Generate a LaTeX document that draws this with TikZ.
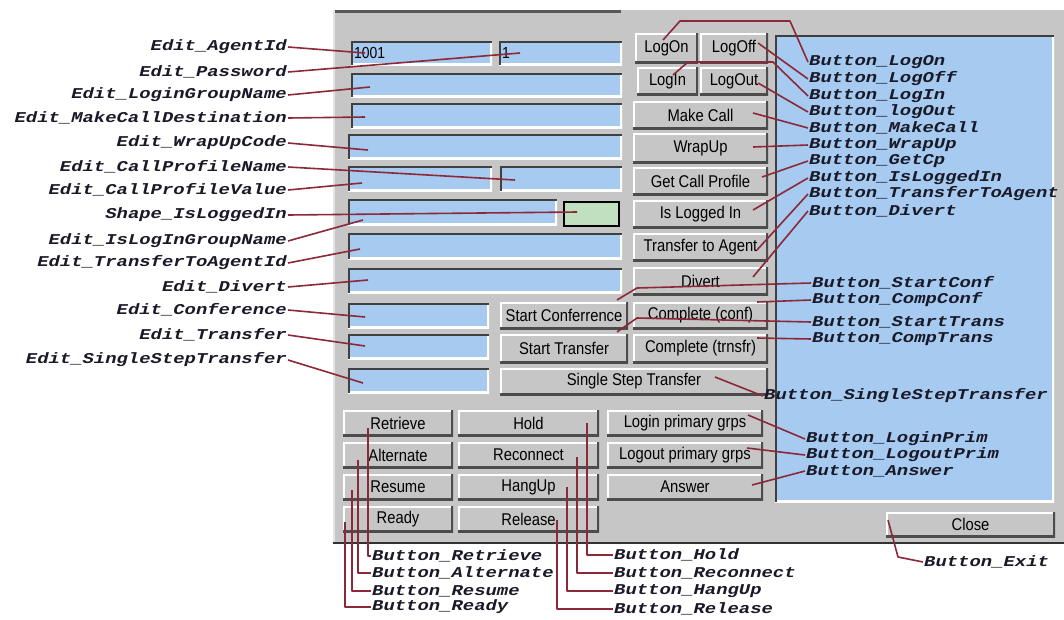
\documentclass[tikz,border=0pt]{standalone}
\usepackage{fontspec}
\newfontfamily\tagfont{Liberation Mono}[FakeStretch=1.26]
\newfontfamily\guifont{Liberation Sans}[FakeStretch=0.87]

\definecolor{wingray}{RGB}{198,198,198}
\definecolor{fieldblue}{RGB}{166,202,240}
\definecolor{ledgreen}{RGB}{192,224,192}
\definecolor{leadred}{RGB}{140,40,55}
\definecolor{tagink}{RGB}{25,25,40}

\tikzset{
  widget/.style={anchor=north west,inner sep=0pt,outer sep=0pt,
    font=\guifont\fontsize{17}{17}\selectfont},
  btn/.style={widget,fill=wingray,path picture={
    \draw[white,line width=4pt] (path picture bounding box.south west) |- (path picture bounding box.north east);
    \draw[black!70,line width=4pt] (path picture bounding box.south west) -| (path picture bounding box.north east);}},
  fld/.style={widget,fill=fieldblue,path picture={
    \draw[white,line width=4pt] (path picture bounding box.south west) -| (path picture bounding box.north east);
    \draw[black!75,line width=4pt] (path picture bounding box.south west) |- (path picture bounding box.north east);}},
  ledbox/.style={widget,fill=ledgreen,draw=black,line width=1.5pt},
  tag/.style={inner sep=1pt,text=tagink,font=\tagfont\bfseries\itshape\fontsize{15}{15}\selectfont},
  tagl/.style={tag,anchor=east},
  tagr/.style={tag,anchor=west},
  lead/.style={leadred,line width=1.6pt,line join=round},
  fldtxt/.style={anchor=west,inner sep=3pt,font=\guifont\fontsize{16}{16}\selectfont}
}

\begin{document}
\begin{tikzpicture}[x=1pt,y=-1pt]
\useasboundingbox (0,0) rectangle (1064,619);
% the window
\fill[wingray] (333,10) rectangle (1064,543);
\draw[black!65,line width=3pt] (333,11.5) -- (621,11.5);
\draw[white!80!gray,line width=2pt] (334,10) -- (334,543);
\draw[black!80,line width=2pt] (333,543) -- (1064,543);
\node[fld,minimum width=279,minimum height=467] (pnlOut) at (775,35) {};

% edit fields
\node[fld,minimum width=141,minimum height=24,label={[fldtxt]west:1001}] (fAgent) at (351,41) {};
\node[fld,minimum width=123,minimum height=24,label={[fldtxt]west:1}] (fPass) at (499,41) {};
\node[fld,minimum width=271,minimum height=24] (fLoginGrp) at (351,73) {};
\node[fld,minimum width=271,minimum height=25] (fMakeCall) at (351,103) {};
\node[fld,minimum width=274,minimum height=25] (fWrapUp) at (348,134) {};
\node[fld,minimum width=144,minimum height=25] (fCpL) at (348,166) {};
\node[fld,minimum width=122,minimum height=25] (fCpR) at (500,166) {};
\node[fld,minimum width=209,minimum height=26] (fIsLogGrp) at (348,199) {};
\node[ledbox,minimum width=55,minimum height=24] (shLogged) at (564,202) {};
\node[fld,minimum width=274,minimum height=26] (fXferAgent) at (348,233) {};
\node[fld,minimum width=274,minimum height=25] (fDivert) at (348,268) {};
\node[fld,minimum width=141,minimum height=25] (fConf) at (348,303) {};
\node[fld,minimum width=141,minimum height=25] (fXfer) at (348,334) {};
\node[fld,minimum width=141,minimum height=25] (fSST) at (348,368) {};

% buttons
\node[btn,minimum width=63,minimum height=30] (bLogOn) at (635,33) {LogOn};
\node[btn,minimum width=68,minimum height=30] (bLogOff) at (700,33) {LogOff};
\node[btn,minimum width=61,minimum height=28] (bLogIn) at (637,67) {LogIn};
\node[btn,minimum width=68,minimum height=28] (bLogOut) at (700,67) {LogOut};
\node[btn,minimum width=135,minimum height=28] (bMakeCall) at (633,101) {Make Call};
\node[btn,minimum width=135,minimum height=30] (bWrapUp) at (633,133) {WrapUp};
\node[btn,minimum width=135,minimum height=28] (bGetCp) at (633,167) {Get Call Profile};
\node[btn,minimum width=135,minimum height=28] (bIsLogged) at (633,200) {Is Logged In};
\node[btn,minimum width=135,minimum height=28] (bXferAgent) at (633,233) {Transfer to Agent};
\node[btn,minimum width=135,minimum height=28] (bDivert) at (633,267) {Divert};
\node[btn,minimum width=128,minimum height=27] (bStartConf) at (500,302) {Start Conferrence};
\node[btn,minimum width=135,minimum height=27] (bCompConf) at (633,302) {Complete (conf)};
\node[btn,minimum width=128,minimum height=29] (bStartXfer) at (500,334) {Start Transfer};
\node[btn,minimum width=135,minimum height=29] (bCompXfer) at (633,334) {Complete (trnsfr)};
\node[btn,minimum width=268,minimum height=27] (bSST) at (500,368) {Single Step Transfer};
\node[btn,minimum width=110,minimum height=26] (bRetrieve) at (343,410) {Retrieve};
\node[btn,minimum width=141,minimum height=26] (bHold) at (458,410) {Hold};
\node[btn,minimum width=156,minimum height=26] (bLoginPrim) at (607,410) {Login primary grps};
\node[btn,minimum width=110,minimum height=26] (bAlternate) at (343,442) {Alternate};
\node[btn,minimum width=141,minimum height=26] (bReconnect) at (458,442) {Reconnect};
\node[btn,minimum width=156,minimum height=26] (bLogoutPrim) at (607,442) {Logout primary grps};
\node[btn,minimum width=110,minimum height=26] (bResume) at (343,474) {Resume};
\node[btn,minimum width=141,minimum height=26] (bHangUp) at (458,474) {HangUp};
\node[btn,minimum width=156,minimum height=26] (bAnswer) at (607,474) {Answer};
\node[btn,minimum width=110,minimum height=26] (bReady) at (343,506) {Ready};
\node[btn,minimum width=141,minimum height=26] (bRelease) at (458,506) {Release};
\node[btn,minimum width=169,minimum height=25] (bClose) at (886,512) {Close};

% names on the left
\node[tagl] (lAgent) at (288,47) {Edit\_AgentId};
\node[tagl] (lPass) at (288,72) {Edit\_Password};
\node[tagl] (lLoginGrp) at (288,95) {Edit\_LoginGroupName};
\node[tagl] (lMakeCall) at (288,118) {Edit\_MakeCallDestination};
\node[tagl] (lWrapUp) at (288,143) {Edit\_WrapUpCode};
\node[tagl] (lCpName) at (288,167) {Edit\_CallProfileName};
\node[tagl] (lCpValue) at (288,190) {Edit\_CallProfileValue};
\node[tagl] (lShLogged) at (288,215) {Shape\_IsLoggedIn};
\node[tagl] (lIsLogGrp) at (288,241) {Edit\_IsLogInGroupName};
\node[tagl] (lXferAgent) at (288,263) {Edit\_TransferToAgentId};
\node[tagl] (lDivert) at (288,287) {Edit\_Divert};
\node[tagl] (lConf) at (288,310) {Edit\_Conference};
\node[tagl] (lXfer) at (288,335) {Edit\_Transfer};
\node[tagl] (lSSTe) at (288,360) {Edit\_SingleStepTransfer};

\draw[lead] (lAgent.east) -- ([shift={(14,12)}]fAgent.north west);
\draw[lead] (lPass.east) -- ([shift={(21,12)}]fPass.north west);
\draw[lead] (lLoginGrp.east) -- ([shift={(19,14)}]fLoginGrp.north west);
\draw[lead] (lMakeCall.east) -- ([shift={(14,14)}]fMakeCall.north west);
\draw[lead] (lWrapUp.east) -- ([shift={(20,16)}]fWrapUp.north west);
\draw[lead] (lCpName.east) -- ([shift={(15,14)}]fCpR.north west);
\draw[lead] (lCpValue.east) -- ([shift={(14,17)}]fCpL.north west);
\draw[lead] (lShLogged.east) -- ([shift={(13,10)}]shLogged.north west);
\draw[lead] (lIsLogGrp.east) -- ([shift={(15,21)}]fIsLogGrp.north west);
\draw[lead] (lXferAgent.east) -- ([shift={(12,16)}]fXferAgent.north west);
\draw[lead] (lDivert.east) -- ([shift={(20,12)}]fDivert.north west);
\draw[lead] (lConf.east) -- ([shift={(17,14)}]fConf.north west);
\draw[lead] (lXfer.east) -- ([shift={(17,12)}]fXfer.north west);
\draw[lead] (lSSTe.east) -- ([shift={(15,15)}]fSST.north west);

% names on the right
\node[tagr] (lLogOn) at (808,62) {Button\_LogOn};
\node[tagr] (lLogOff) at (808,79) {Button\_LogOff};
\node[tagr] (lLogIn) at (808,96) {Button\_LogIn};
\node[tagr] (lLogOut) at (808,112) {Button\_logOut};
\node[tagr] (lMakeCallB) at (808,128) {Button\_MakeCall};
\node[tagr] (lWrapUpB) at (808,145) {Button\_WrapUp};
\node[tagr] (lGetCp) at (808,161) {Button\_GetCp};
\node[tagr] (lIsLogged) at (808,178) {Button\_IsLoggedIn};
\node[tagr] (lXferAgentB) at (808,194) {Button\_TransferToAgent};
\node[tagr] (lDivertB) at (808,211) {Button\_Divert};
\node[tagr] (lStartConf) at (811,283) {Button\_StartConf};
\node[tagr] (lCompConf) at (811,300) {Button\_CompConf};
\node[tagr] (lStartTrans) at (811,322) {Button\_StartTrans};
\node[tagr] (lCompTrans) at (811,339) {Button\_CompTrans};
\node[tagr] (lSST) at (763,396) {Button\_SingleStepTransfer};
\node[tagr] (lLoginPrim) at (805,439) {Button\_LoginPrim};
\node[tagr] (lLogoutPrim) at (805,455) {Button\_LogoutPrim};
\node[tagr] (lAnswer) at (805,471) {Button\_Answer};
\node[tagr] (lExit) at (923,562) {Button\_Exit};

\draw[lead] ([shift={(28,7)}]bLogOn.north west) -- ++(17,-19) -- ++(110,0) -- (lLogOn.west);
\draw[lead] ([shift={(58,10)}]bLogOff.north west) -- (lLogOff.west);
\draw[lead] ([shift={(36,8)}]bLogIn.north west) -- ++(15,-13) -- ++(85,0) -- (lLogIn.west);
\draw[lead] ([shift={(58,16)}]bLogOut.north west) -- (lLogOut.west);
\draw[lead] ([shift={(120,12)}]bMakeCall.north west) -- (lMakeCallB.west);
\draw[lead] ([shift={(120,14)}]bWrapUp.north west) -- (lWrapUpB.west);
\draw[lead] ([shift={(129,10)}]bGetCp.north west) -- (lGetCp.west);
\draw[lead] ([shift={(120,10)}]bIsLogged.north west) -- (lIsLogged.west);
\draw[lead] ([shift={(124,17)}]bXferAgent.north west) -- (lXferAgentB.west);
\draw[lead] ([shift={(120,10)}]bDivert.north west) -- (lDivertB.west);
\draw[lead] ([shift={(117,-2)}]bStartConf.north west) -- ++(20,-12) -- (lStartConf.west);
\draw[lead] ([shift={(124,0)}]bCompConf.north west) -- (lCompConf.west);
\draw[lead] ([shift={(117,-2)}]bStartXfer.north west) -- ++(20,-14) -- (lStartTrans.west);
\draw[lead] ([shift={(124,4)}]bCompXfer.north west) -- (lCompTrans.west);
\draw[lead] ([shift={(215,9)}]bSST.north west) -- (lSST.west);
\draw[lead] ([shift={(141,5)}]bLoginPrim.north west) -- (lLoginPrim.west);
\draw[lead] ([shift={(140,6)}]bLogoutPrim.north west) -- (lLogoutPrim.west);
\draw[lead] ([shift={(145,11)}]bAnswer.north west) -- (lAnswer.west);
\draw[lead] ([shift={(2,8)}]bClose.north west) -- ++(10,37) -- (lExit.west);

% names below
\node[tagr] (lRetrieve) at (371,556) {Button\_Retrieve};
\node[tagr] (lAlternate) at (371,573) {Button\_Alternate};
\node[tagr] (lResume) at (371,591) {Button\_Resume};
\node[tagr] (lReady) at (371,607) {Button\_Ready};
\node[tagr] (lHold) at (613,555) {Button\_Hold};
\node[tagr] (lReconnect) at (613,573) {Button\_Reconnect};
\node[tagr] (lHangUp) at (613,591) {Button\_HangUp};
\node[tagr] (lRelease) at (613,609) {Button\_Release};

\draw[lead] ([shift={(25,18)}]bRetrieve.north west) |- (lRetrieve.west);
\draw[lead] ([shift={(15,18)}]bAlternate.north west) |- (lAlternate.west);
\draw[lead] ([shift={(9,16)}]bResume.north west) |- (lResume.west);
\draw[lead] ([shift={(2,16)}]bReady.north west) |- (lReady.west);
\draw[lead] ([shift={(129,13)}]bHold.north west) |- (lHold.west);
\draw[lead] ([shift={(119,15)}]bReconnect.north west) |- (lReconnect.west);
\draw[lead] ([shift={(109,13)}]bHangUp.north west) |- (lHangUp.west);
\draw[lead] ([shift={(99,14)}]bRelease.north west) |- (lRelease.west);
\end{tikzpicture}
\end{document}
